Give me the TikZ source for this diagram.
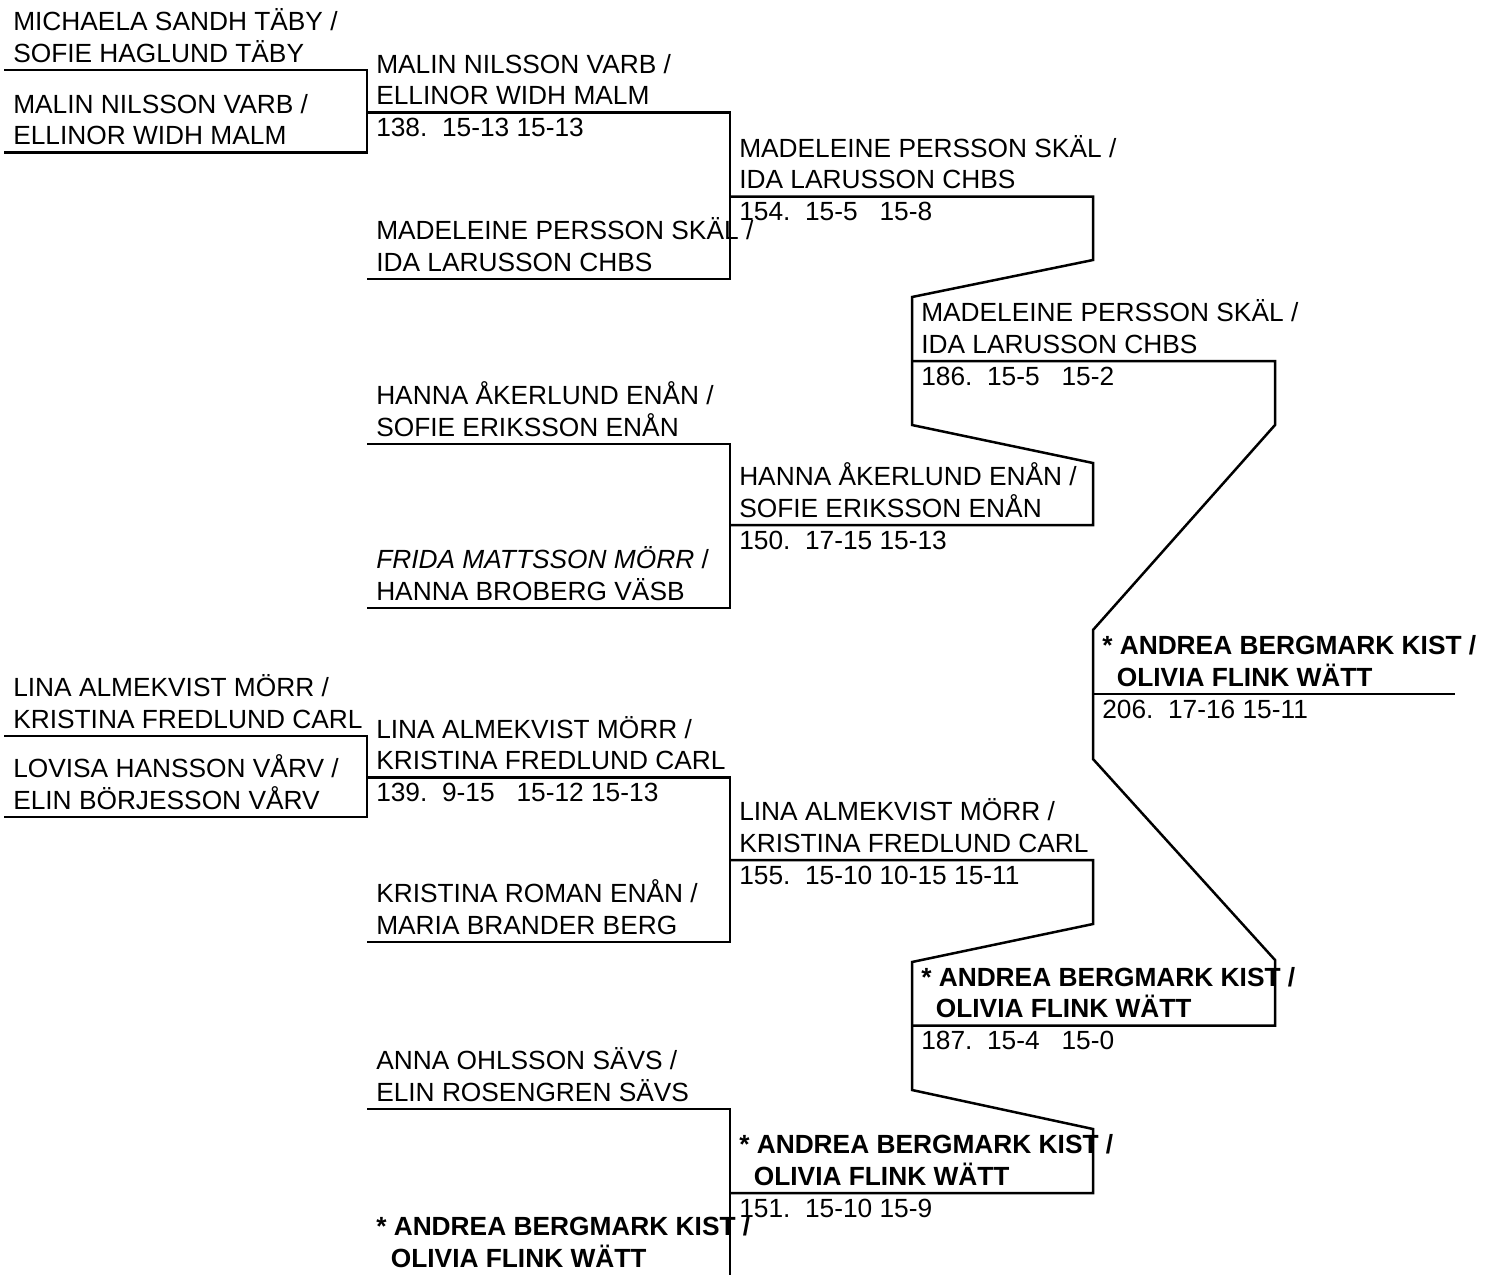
\documentclass[tikz,border=0pt]{standalone}
\usepackage{fontspec}
\setmainfont{Liberation Sans}
\frenchspacing
\begin{document}
\begin{tikzpicture}[x=1pt,y=-1pt,line width=2.5pt,line join=miter,
	team/.style={anchor=base west,align=left,inner sep=0pt,font=\fontsize{26.3pt}{31.5pt}\selectfont},
	score/.style={anchor=base west,inner sep=0pt,font=\fontsize{26.3pt}{31.5pt}\selectfont}]
		\useasboundingbox (0,0) rectangle (1486,1275);
		% round 0
		\coordinate (a1) at (4,70);     \coordinate (a1e) at (367,70);
		\coordinate (a2) at (4,152.5);  \coordinate (a2e) at (367,152.5);
		\coordinate (a3) at (4,736);    \coordinate (a3e) at (367,736);
		\coordinate (a4) at (4,817);    \coordinate (a4e) at (367,817);
		\node[team] (a1t) at (12,62) {MICHAELA SANDH TÄBY /\\SOFIE HAGLUND TÄBY};
		\node[team] (a2t) at (12,144.5) {MALIN NILSSON VARB /\\ELLINOR WIDH MALM};
		\node[team] (a3t) at (12,728) {LINA ALMEKVIST MÖRR /\\KRISTINA FREDLUND CARL};
		\node[team] (a4t) at (12,809) {LOVISA HANSSON VÅRV /\\ELIN BÖRJESSON VÅRV};
		\draw (a1) -- (a1e) -- (a2e) -- (a2);
		\draw (a3) -- (a3e) -- (a4e) -- (a4);
		% round 1
		\coordinate (b1) at (367,112.5); \coordinate (b1e) at (730,112.5);
		\coordinate (b2) at (367,279);   \coordinate (b2e) at (730,279);
		\coordinate (b3) at (367,444);   \coordinate (b3e) at (730,444);
		\coordinate (b4) at (367,608);   \coordinate (b4e) at (730,608);
		\coordinate (b5) at (367,777.5); \coordinate (b5e) at (730,777.5);
		\coordinate (b6) at (367,942);   \coordinate (b6e) at (730,942);
		\coordinate (b7) at (367,1109);  \coordinate (b7e) at (730,1109);
		\coordinate (b8e) at (730,1275);
		\node[team] (b1t) at (375,104.5) {MALIN NILSSON VARB /\\ELLINOR WIDH MALM};
		\node[score] (b1s) at (375,136.5) {138.\ \ 15-13 15-13};
		\node[team] (b2t) at (375,271) {MADELEINE PERSSON SKÄL /\\IDA LARUSSON CHBS};
		\node[team] (b3t) at (375,436) {HANNA ÅKERLUND ENÅN /\\SOFIE ERIKSSON ENÅN};
		\node[team] (b4t) at (375,600) {\textit{FRIDA MATTSSON MÖRR} /\\HANNA BROBERG VÄSB};
		\node[team] (b5t) at (375,769.5) {LINA ALMEKVIST MÖRR /\\KRISTINA FREDLUND CARL};
		\node[score] (b5s) at (375,801.5) {139.\ \ 9-15\ \ \ 15-12 15-13};
		\node[team] (b6t) at (375,934) {KRISTINA ROMAN ENÅN /\\MARIA BRANDER BERG};
		\node[team] (b7t) at (375,1101) {ANNA OHLSSON SÄVS /\\ELIN ROSENGREN SÄVS};
		\node[team,font=\fontsize{26.3pt}{31.5pt}\selectfont\bfseries] (b8t) at (375,1267) {* ANDREA BERGMARK KIST /\\\ \ OLIVIA FLINK WÄTT};
		\draw (b1) -- (b1e) -- (b2e) -- (b2);
		\draw (b3) -- (b3e) -- (b4e) -- (b4);
		\draw (b5) -- (b5e) -- (b6e) -- (b6);
		\draw (b7) -- (b7e) -- (b8e);
		% round 2
		\coordinate (c1) at (730,196.5); \coordinate (c1e) at (1093,196.5);
		\coordinate (c2) at (730,525);   \coordinate (c2e) at (1093,525);
		\coordinate (c3) at (730,860);   \coordinate (c3e) at (1093,860);
		\coordinate (c4) at (730,1193);  \coordinate (c4e) at (1093,1193);
		\node[team] (c1t) at (738,188.5) {MADELEINE PERSSON SKÄL /\\IDA LARUSSON CHBS};
		\node[score] (c1s) at (738,220.5) {154.\ \ 15-5\ \ \ 15-8};
		\node[team] (c2t) at (738,517) {HANNA ÅKERLUND ENÅN /\\SOFIE ERIKSSON ENÅN};
		\node[score] (c2s) at (738,549) {150.\ \ 17-15 15-13};
		\node[team] (c3t) at (738,852) {LINA ALMEKVIST MÖRR /\\KRISTINA FREDLUND CARL};
		\node[score] (c3s) at (738,884) {155.\ \ 15-10 10-15 15-11};
		\node[team,font=\fontsize{26.3pt}{31.5pt}\selectfont\bfseries] (c4t) at (738,1185) {* ANDREA BERGMARK KIST /\\\ \ OLIVIA FLINK WÄTT};
		\node[score] (c4s) at (738,1217) {151.\ \ 15-10 15-9};
		\coordinate (k1) at (1093,260); \coordinate (k2) at (912,297);
		\coordinate (k3) at (912,425);  \coordinate (k4) at (1093,463);
		\coordinate (k5) at (1093,924); \coordinate (k6) at (912,962);
		\coordinate (k7) at (912,1090); \coordinate (k8) at (1093,1129);
		\draw (c1) -- (c1e) -- (k1) -- (k2) -- (k3) -- (k4) -- (c2e) -- (c2);
		\draw (c3) -- (c3e) -- (k5) -- (k6) -- (k7) -- (k8) -- (c4e) -- (c4);
		% round 3
		\coordinate (d1) at (912,361);    \coordinate (d1e) at (1275,361);
		\coordinate (d2) at (912,1025.5); \coordinate (d2e) at (1275,1025.5);
		\node[team] (d1t) at (920,353) {MADELEINE PERSSON SKÄL /\\IDA LARUSSON CHBS};
		\node[score] (d1s) at (920,385) {186.\ \ 15-5\ \ \ 15-2};
		\node[team,font=\fontsize{26.3pt}{31.5pt}\selectfont\bfseries] (d2t) at (920,1017.5) {* ANDREA BERGMARK KIST /\\\ \ OLIVIA FLINK WÄTT};
		\node[score] (d2s) at (920,1049.5) {187.\ \ 15-4\ \ \ 15-0};
		\coordinate (k9) at (1275,425);  \coordinate (k10) at (1093,630);
		\coordinate (k11) at (1093,759); \coordinate (k12) at (1275,960);
		\draw (d1) -- (d1e) -- (k9) -- (k10) -- (k11) -- (k12) -- (d2e) -- (d2);
		% final
		\coordinate (e1) at (1093,694); \coordinate (e1e) at (1455,694);
		\node[team,font=\fontsize{26.3pt}{31.5pt}\selectfont\bfseries] (e1t) at (1101,686) {* ANDREA BERGMARK KIST /\\\ \ OLIVIA FLINK WÄTT};
		\node[score] (e1s) at (1101,718) {206.\ \ 17-16 15-11};
		\draw (e1) -- (e1e);
\end{tikzpicture}
\end{document}
